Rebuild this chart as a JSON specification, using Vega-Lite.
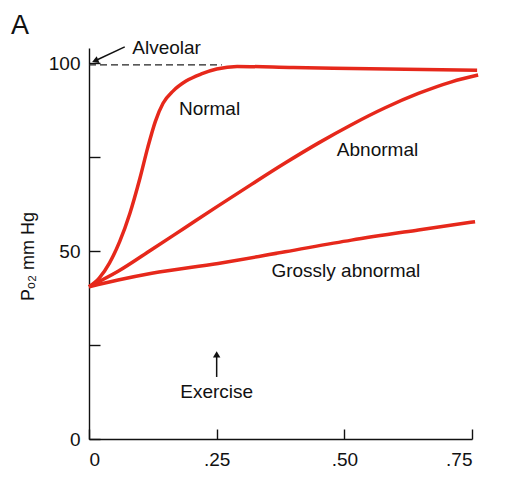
{
  "$schema": "https://vega.github.io/schema/vega-lite/v6.json",
  "autosize": {"type": "none"},
  "width": 383,
  "height": 391,
  "padding": {"left": 89, "top": 48, "right": 41, "bottom": 40},
  "background": "#ffffff",
  "config": {
    "view": {"stroke": null},
    "font": "Liberation Sans",
    "axis": {"grid": false, "domainColor": "#111111", "tickColor": "#111111", "domainWidth": 1.4, "tickWidth": 1.4, "labelColor": "#111111", "labelFont": "Liberation Sans", "labelFontSize": 19, "titleFont": "Liberation Sans", "titleFontWeight": "normal", "titleColor": "#111111"}
  },
  "title": {"text": "A", "anchor": "start", "frame": "group", "dx": -78, "dy": 6, "offset": 5, "fontSize": 27, "fontWeight": "normal", "font": "Liberation Sans", "color": "#111111"},
  "datasets": {
    "curves": [
      {"series": "Normal", "x": 0, "y": 40.5},
      {"series": "Normal", "x": 0.02, "y": 42.8},
      {"series": "Normal", "x": 0.04, "y": 46.8},
      {"series": "Normal", "x": 0.06, "y": 52.5},
      {"series": "Normal", "x": 0.08, "y": 60},
      {"series": "Normal", "x": 0.1, "y": 69.5},
      {"series": "Normal", "x": 0.115, "y": 77.5},
      {"series": "Normal", "x": 0.13, "y": 84.5},
      {"series": "Normal", "x": 0.145, "y": 89.3},
      {"series": "Normal", "x": 0.165, "y": 92.6},
      {"series": "Normal", "x": 0.19, "y": 95.2},
      {"series": "Normal", "x": 0.22, "y": 97.1},
      {"series": "Normal", "x": 0.25, "y": 98.4},
      {"series": "Normal", "x": 0.29, "y": 99.1},
      {"series": "Normal", "x": 0.4, "y": 98.8},
      {"series": "Normal", "x": 0.55, "y": 98.5},
      {"series": "Normal", "x": 0.76, "y": 98.1},
      {"series": "Abnormal", "x": 0, "y": 40.5},
      {"series": "Abnormal", "x": 0.057, "y": 44.6},
      {"series": "Abnormal", "x": 0.123, "y": 50.4},
      {"series": "Abnormal", "x": 0.188, "y": 56.2},
      {"series": "Abnormal", "x": 0.253, "y": 62},
      {"series": "Abnormal", "x": 0.319, "y": 67.8},
      {"series": "Abnormal", "x": 0.384, "y": 73.4},
      {"series": "Abnormal", "x": 0.449, "y": 78.7},
      {"series": "Abnormal", "x": 0.514, "y": 83.6},
      {"series": "Abnormal", "x": 0.58, "y": 88.1},
      {"series": "Abnormal", "x": 0.645, "y": 91.9},
      {"series": "Abnormal", "x": 0.71, "y": 95},
      {"series": "Abnormal", "x": 0.762, "y": 96.8},
      {"series": "Grossly abnormal", "x": 0, "y": 40.5},
      {"series": "Grossly abnormal", "x": 0.057, "y": 42.3},
      {"series": "Grossly abnormal", "x": 0.123, "y": 44.1},
      {"series": "Grossly abnormal", "x": 0.253, "y": 46.7},
      {"series": "Grossly abnormal", "x": 0.384, "y": 49.8},
      {"series": "Grossly abnormal", "x": 0.514, "y": 52.9},
      {"series": "Grossly abnormal", "x": 0.645, "y": 55.6},
      {"series": "Grossly abnormal", "x": 0.756, "y": 57.8}
    ],
    "labels": [
      {"text": "Normal", "x": 0.236, "y": 87.9},
      {"text": "Abnormal", "x": 0.565, "y": 76.9},
      {"text": "Grossly abnormal", "x": 0.503, "y": 44.8},
      {"text": "Alveolar", "x": 0.152, "y": 104},
      {"text": "Exercise", "x": 0.25, "y": 12.5}
    ],
    "arrows": [
      {"name": "alveolar", "x": 0.07, "y": 104.3, "x2": 0.012, "y2": 100.6},
      {"name": "exercise", "x": 0.25, "y": 16.5, "x2": 0.25, "y2": 22.5}
    ]
  },
  "encoding": {
    "x": {"type": "quantitative", "scale": {"domain": [0, 0.75], "nice": false}},
    "y": {"type": "quantitative", "scale": {"domain": [0, 104], "nice": false}}
  },
  "layer": [
    {
      "data": {"name": "curves"},
      "mark": {"type": "line", "color": "#e6281b", "strokeWidth": 3.5, "interpolate": "monotone", "clip": false},
      "encoding": {
        "x": {"field": "x", "type": "quantitative",
          "axis": {"values": [0, 0.25, 0.5, 0.75], "labelExpr": "datum.value === 0 ? '0' : replace(format(datum.value, '.2f'), '0.', '.')", "tickSize": -10, "labelPadding": 21, "title": null}},
        "y": {"field": "y", "type": "quantitative",
          "axis": {"values": [0, 25, 50, 75, 100], "labelExpr": "datum.value % 50 === 0 ? datum.label : ''", "tickSize": -11, "labelPadding": 20, "title": "Pₒ₂  mm Hg", "titleFontSize": 18, "titlePadding": 11, "titleY": 208}},
        "detail": {"field": "series"}
      }
    },
    {
      "data": {"values": [{"x": 0, "x2": 0.26, "y": 99.5}]},
      "mark": {"type": "rule", "color": "#222222", "strokeWidth": 1.4, "strokeDash": [7, 4]},
      "encoding": {"x": {"field": "x", "type": "quantitative"}, "x2": {"field": "x2"}, "y": {"field": "y", "type": "quantitative"}}
    },
    {
      "data": {"name": "arrows"},
      "mark": {"type": "rule", "color": "#111111", "strokeWidth": 1.5, "clip": false},
      "encoding": {"x": {"field": "x", "type": "quantitative"}, "x2": {"field": "x2"}, "y": {"field": "y", "type": "quantitative"}, "y2": {"field": "y2"}}
    },
    {
      "data": {"name": "arrows"},
      "transform": [{"filter": "datum.name === 'alveolar'"}],
      "mark": {"type": "point", "shape": "triangle-up", "filled": true, "color": "#111111", "opacity": 1, "size": 55, "angle": 248, "clip": false},
      "encoding": {"x": {"field": "x2", "type": "quantitative"}, "y": {"field": "y2", "type": "quantitative"}}
    },
    {
      "data": {"name": "arrows"},
      "transform": [{"filter": "datum.name === 'exercise'"}],
      "mark": {"type": "point", "shape": "triangle-up", "filled": true, "color": "#111111", "opacity": 1, "size": 55, "angle": 0, "clip": false},
      "encoding": {"x": {"field": "x2", "type": "quantitative"}, "y": {"field": "y2", "type": "quantitative"}}
    },
    {
      "data": {"name": "labels"},
      "mark": {"type": "text", "font": "Liberation Sans", "fontSize": 19, "color": "#111111", "align": "center", "baseline": "middle", "clip": false},
      "encoding": {"x": {"field": "x", "type": "quantitative"}, "y": {"field": "y", "type": "quantitative"}, "text": {"field": "text"}}
    }
  ]
}
